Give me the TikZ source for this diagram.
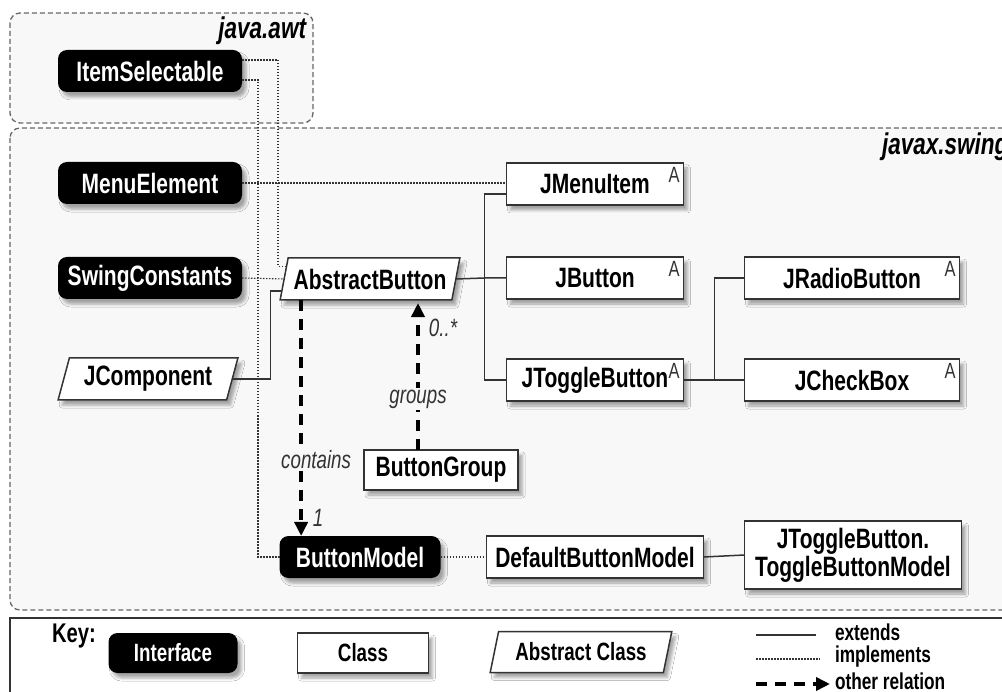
\documentclass[tikz,border=0pt]{standalone}
\usepackage{fontspec}
\setmainfont{Liberation Sans}[FakeStretch=0.75]
\usetikzlibrary{shapes.geometric,arrows.meta,calc,shadows.blur}
\definecolor{pkgbg}{HTML}{F8F8F8}
\definecolor{ln}{HTML}{333333}
\definecolor{pkgln}{HTML}{666666}
\begin{document}
\begin{tikzpicture}[x=1pt,y=-1pt,
  every node/.style={inner sep=0pt,outer sep=0pt},
  nfont/.style={font=\fontsize{28}{28}\selectfont\bfseries},
  kfont/.style={font=\fontsize{25}{26}\selectfont\bfseries},
  legfont/.style={font=\fontsize{23}{24}\selectfont\bfseries},
  lblfont/.style={font=\fontsize{25}{26}\selectfont\itshape,text=ln},
  afont/.style={font=\fontsize{22}{22}\selectfont,text=ln},
  shadowed/.style={blur shadow={shadow xshift=4pt,shadow yshift=-5pt,shadow blur radius=3pt,shadow opacity=35}},
  iface/.style={nfont,shadowed,fill=black,text=white,rounded corners=9pt,minimum height=42pt},
  cls/.style={nfont,shadowed,fill=white,draw=ln,line width=1.5pt,minimum height=42pt},
  abscls/.style={nfont,shadowed,fill=white,draw=ln,line width=1.5pt,trapezium,trapezium left angle=70,trapezium right angle=110,trapezium stretches=true,minimum height=42pt},
  absmark/.style={label={[afont,anchor=north east,xshift=-4pt,yshift=-4pt]north east:A}},
  pkg/.style={draw=pkgln,fill=pkgbg,line width=1.3pt,dash pattern=on 5pt off 3pt,rounded corners=10pt},
  pkgname/.style={font=\fontsize{30}{30}\selectfont\bfseries\itshape},
  impl/.style={draw=ln,line width=1.1pt,dash pattern=on 1.5pt off 1.5pt},
  ext/.style={draw=ln,line width=1.5pt},
  rel/.style={draw=black,line width=3.5pt,dash pattern=on 11pt off 8pt,-{Triangle[length=14pt,width=13pt]}},
  lbl/.style={lblfont,fill=pkgbg,inner sep=2pt}
]
\useasboundingbox (0,0) rectangle (1002,692);
\clip (0,0) rectangle (1002,692);
\fill[white] (0,0) rectangle (1002,692);

% packages
\draw[pkg] (10,13) rectangle (313,123);
\node[pkgname,anchor=east] (awt) at (306,31) {java.awt};
\draw[pkg] (10,128) rectangle (1040,610);
\node[pkgname,anchor=west] (swing) at (882,147) {javax.swing};

% key box
\draw[draw=ln,line width=2pt] (10,618) rectangle (1040,720);

% interfaces
\node[iface,minimum width=184pt] (IS) at (150,71) {ItemSelectable};
\node[iface,minimum width=184pt] (ME) at (150,183) {MenuElement};
\node[iface,minimum width=184pt] (SC) at (150,278) {SwingConstants};
\node[iface,minimum width=161pt] (BM) at (360,557) {ButtonModel};

% abstract classes
\node[abscls,minimum width=180pt] (JC) at (148,379) {JComponent};
\node[abscls,minimum width=180pt] (AB) at (370,279) {AbstractButton};

% classes
\node[cls,absmark,minimum width=177pt] (JMI) at (595,184) {JMenuItem};
\node[cls,absmark,minimum width=177pt] (JB) at (595,278) {JButton};
\node[cls,absmark,minimum width=177pt] (JTB) at (595,380) {JToggleButton};
\node[cls,absmark,minimum width=215pt] (JRB) at (852,278) {JRadioButton};
\node[cls,absmark,minimum width=215pt] (JCB) at (852,380) {JCheckBox};
\node[cls,minimum width=154pt,minimum height=40pt] (BG) at (441,470) {ButtonGroup};
\node[cls,minimum width=217pt] (DBM) at (595,557) {DefaultButtonModel};
\node[cls,minimum width=217pt,minimum height=68pt,align=center] (TBM) at (853,555) {JToggleButton.\\ToggleButtonModel};

% implements
\coordinate (isA) at ($(IS.east)+(0,-11)$);
\coordinate (isB) at ($(IS.east)+(0,9)$);
\coordinate (abL1) at ($(AB.top left corner)!0.2!(AB.bottom left corner)$);
\draw[impl] (isA) -- ++(36,0) |- (abL1);
\draw[impl] (isB) -- ++(16,0) |- (BM.west);
\draw[impl] (ME.east) -- (ME.east -| JMI.west);
\draw[impl] (SC.east) -- (AB.west);
\draw[impl] (BM.east) -- (DBM.west);

% extends
\coordinate (abL2) at ($(AB.top left corner)!0.79!(AB.bottom left corner)$);
\draw[ext] (JC.east) -- ++(38,0) |- (abL2);
\coordinate (bus) at ($(JB.west)+(-22,0)$);
\draw[ext] (AB.east) -- (bus) -- (JB.west);
\draw[ext] ($(JMI.west)+(0,10)$) -| (bus) |- (JTB.west);
\coordinate (bus2) at ($(JCB.west)+(-30,0)$);
\draw[ext] (JTB.east) -- (JCB.west);
\draw[ext] (bus2) |- (JRB.west);
\draw[ext] (DBM.east) -- (TBM.west);

% other relations
\coordinate (c1) at ($(AB.bottom left corner)+(21,0)$);
\draw[rel] (c1) -- (c1 |- BM.north);
\node[lbl] (lcont) at ($(c1)+(15,160)$) {contains};
\node[lblfont] (lone) at ($(c1 |- BM.north)+(17,-18)$) {1};
\coordinate (g1) at ($(BG.north)+(-23,0)$);
\draw[rel,shorten >=3pt] (g1) -- (g1 |- AB.south);
\node[lbl] (lgrp) at ($(g1)+(0,-51)$) {groups};
\node[lblfont] (lmany) at ($(g1)+(25,-122)$) {0..*};

% key
\node[font=\fontsize{27}{28}\selectfont\bfseries,anchor=center] (key) at (74,636) {Key:};
\node[iface,kfont,minimum width=129pt,minimum height=40pt] (kI) at (173,653) {Interface};
\node[cls,kfont,minimum width=131pt,minimum height=40pt] (kC) at (363,653) {Class};
\node[abscls,kfont,minimum width=182pt,minimum height=41pt] (kA) at (581,652) {Abstract Class};
\coordinate (e1) at (756,635); \coordinate (e2) at (816,635);
\draw[ext] (e1) -- (e2);
\node[legfont,anchor=west] (kext) at (835,632) {extends};
\coordinate (i1) at (756,659); \coordinate (i2) at (820,659);
\draw[impl] (i1) -- (i2);
\node[legfont,anchor=west] (kimp) at (835,657) {implements};
\coordinate (r1) at (756,684); \coordinate (r2) at (830,684);
\draw[rel] (r1) -- (r2);
\node[legfont,anchor=west] (krel) at (835,681) {other relation};
\end{tikzpicture}
\end{document}
